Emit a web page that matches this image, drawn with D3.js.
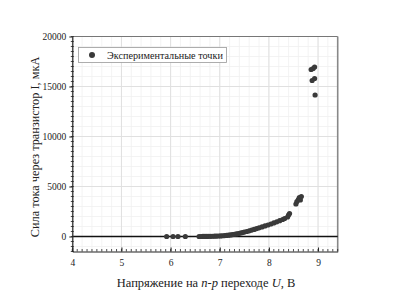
<!DOCTYPE html>
<html lang="ru">
<head>
<meta charset="UTF-8">
<title>ВАХ транзистора</title>
<script src="https://d3js.org/d3.v7.min.js"></script>
<style>
  body { margin: 0; background: #fff; }
  text { font-family: "Liberation Serif", "DejaVu Serif", serif; fill: #222; }
</style>
</head>
<body>
<svg id="chart" width="395" height="304"></svg>
<script>
// напряжение U, В
const voltage = [5.92, 6.05, 6.15, 6.30,
  6.58, 6.62, 6.66, 6.70, 6.74, 6.78, 6.82, 6.86, 6.90, 6.94, 6.98,
  7.02, 7.06, 7.10, 7.14, 7.18, 7.22, 7.26, 7.30, 7.34, 7.38, 7.42,
  7.46, 7.50, 7.55, 7.60, 7.65, 7.70, 7.75, 7.80, 7.86, 7.92, 7.98,
  8.04, 8.10, 8.16, 8.22, 8.28, 8.32, 8.38, 8.40, 8.42,
  8.55, 8.57, 8.60, 8.62, 8.64, 8.66,
  8.86, 8.90, 8.93, 8.88, 8.93, 8.94];
// ток I, мкА
const current = [0, 0, 0, 0,
  0, 0, 5, 8, 10, 14, 18, 24, 30, 38, 48,
  60, 75, 92, 110, 135, 160, 190, 225, 262, 300, 345,
  390, 440, 500, 570, 640, 710, 790, 870, 960, 1060, 1150,
  1250, 1360, 1470, 1580, 1700, 1800, 1950, 2150, 2300,
  3250, 3500, 3700, 3900, 3650, 4000,
  16700, 16800, 16950, 15600, 15800, 14150];

const xTicks = [4, 5, 6, 7, 8, 9];
const yTicks = [0, 5000, 10000, 15000, 20000];
const legendLabel = "Экспериментальные точки";

const svg = d3.select("#chart");
const mLeft = 72.3, mRight = 337.7, mTop = 36.5, mBottom = 251.5;

const x = d3.scaleLinear().domain([4, 9.4]).range([mLeft, mRight]);
const y = d3.scaleLinear().domain([-1500, 20000]).range([mBottom, mTop]);

// сетка
const g = svg.append("g");
g.selectAll(".vminor").data(d3.range(4, 9.41, 0.2))
  .join("line")
  .attr("x1", d => x(d)).attr("x2", d => x(d))
  .attr("y1", mTop).attr("y2", mBottom)
  .attr("stroke", "#f0f0f0").attr("stroke-width", 0.8);
g.selectAll(".hminor").data(d3.range(-1000, 20001, 1000))
  .join("line")
  .attr("x1", mLeft).attr("x2", mRight)
  .attr("y1", d => y(d)).attr("y2", d => y(d))
  .attr("stroke", "#f0f0f0").attr("stroke-width", 0.8);
g.selectAll(".vmajor").data(xTicks)
  .join("line")
  .attr("x1", d => x(d)).attr("x2", d => x(d))
  .attr("y1", mTop).attr("y2", mBottom)
  .attr("stroke", "#e0e0e0").attr("stroke-width", 1);
g.selectAll(".hmajor").data(yTicks)
  .join("line")
  .attr("x1", mLeft).attr("x2", mRight)
  .attr("y1", d => y(d)).attr("y2", d => y(d))
  .attr("stroke", "#e0e0e0").attr("stroke-width", 1);

// рамка: верх и право серые
svg.append("line").attr("x1", mLeft).attr("x2", mRight).attr("y1", mTop).attr("y2", mTop)
  .attr("stroke", "#777").attr("stroke-width", 1.2);
svg.append("line").attr("x1", mRight).attr("x2", mRight).attr("y1", mTop).attr("y2", mBottom)
  .attr("stroke", "#888").attr("stroke-width", 1.6);

// линия нуля
svg.append("line").attr("x1", mLeft).attr("x2", mRight).attr("y1", y(0)).attr("y2", y(0))
  .attr("stroke", "#111").attr("stroke-width", 1.3);

// оси
const xAxis = d3.axisBottom(x).tickValues(xTicks).tickFormat(d3.format("d"))
  .tickSizeInner(-4).tickSizeOuter(0).tickPadding(8);
const xAx = svg.append("g").attr("transform", `translate(0,${mBottom})`).call(xAxis);
xAx.selectAll(".xm").data(d3.range(4, 9.41, 0.1)).join("line")
  .attr("x1", d => x(d)).attr("x2", d => x(d)).attr("y1", 0).attr("y2", -2.5)
  .attr("stroke", "#222").attr("stroke-width", 0.8);

const yAxis = d3.axisLeft(y).tickValues(yTicks).tickFormat(d3.format("d"))
  .tickSizeInner(3).tickSizeOuter(0).tickPadding(3);
const yAx = svg.append("g").attr("transform", `translate(${mLeft},0)`).call(yAxis);
yAx.selectAll(".ym").data(d3.range(-1500, 20001, 500)).join("line")
  .attr("x1", -1.5).attr("x2", 1.5).attr("y1", d => y(d)).attr("y2", d => y(d))
  .attr("stroke", "#222").attr("stroke-width", 0.8);

[xAx, yAx].forEach(a => {
  a.select(".domain").attr("stroke", "#222").attr("stroke-width", 1.2);
  a.selectAll(".tick line").attr("stroke", "#222");
  a.selectAll("text").attr("font-size", 9.5).attr("fill", "#333")
    .style("font-family", '"Liberation Serif", serif');
});

// точки
svg.append("g").selectAll("circle")
  .data(voltage.map((v, i) => ({ u: v, i: current[i] })))
  .join("circle")
  .attr("cx", d => x(d.u)).attr("cy", d => y(d.i))
  .attr("r", 2.6).attr("fill", "#3a3a3a");

// легенда
const lg = svg.append("g");
lg.append("rect").attr("x", 78.5).attr("y", 47.5).attr("width", 148).attr("height", 15)
  .attr("fill", "#fff").attr("stroke", "#999").attr("stroke-width", 0.8);
lg.append("circle").attr("cx", 92).attr("cy", 55).attr("r", 3).attr("fill", "#3a3a3a");
lg.append("text").attr("x", 107).attr("y", 58.5).attr("font-size", 10.2).text(legendLabel);

// подписи осей
svg.append("text")
  .attr("transform", `translate(39,${(mTop + mBottom) / 2 + 3}) rotate(-90)`)
  .attr("text-anchor", "middle").attr("font-size", 12.3)
  .text("Сила тока через транзистор I, мкА");

const xl = svg.append("text").attr("x", 206).attr("y", 287)
  .attr("text-anchor", "middle").attr("font-size", 12.5);
xl.append("tspan").text("Напряжение на ");
xl.append("tspan").attr("font-style", "italic").text("n-p");
xl.append("tspan").text(" переходе ");
xl.append("tspan").attr("font-style", "italic").text("U");
xl.append("tspan").text(", В");
</script>
</body>
</html>
